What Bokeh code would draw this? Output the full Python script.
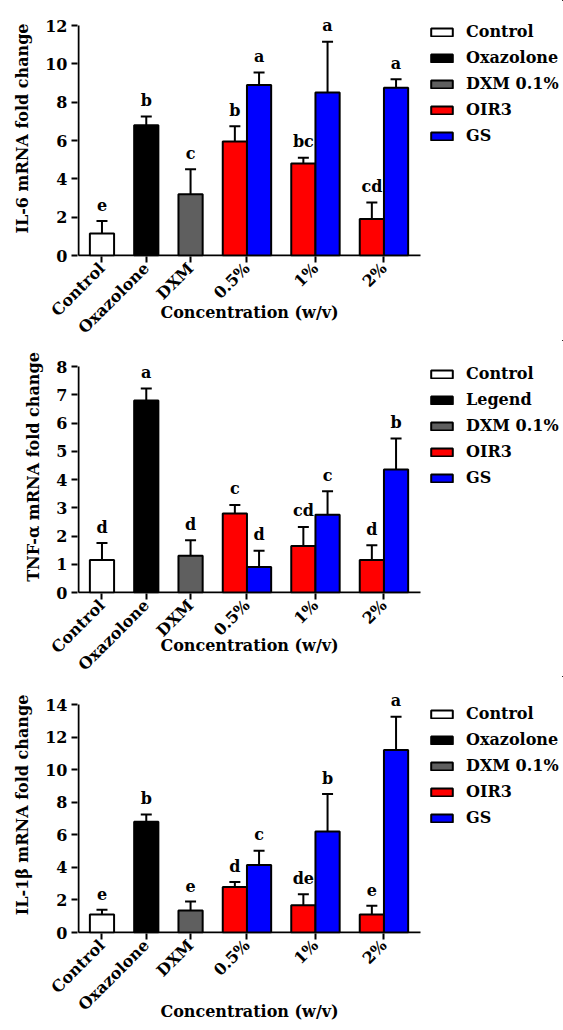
import math
from bokeh.plotting import figure
from bokeh.models import (ColumnDataSource, Range1d, FixedTicker, CustomJSTickFormatter,
                          Whisker, TeeHead, Legend, LegendItem)
from bokeh.layouts import column, row
from bokeh.core.properties import value
from bokeh.embed import file_html
from bokeh.resources import INLINE

# ---------------- data ----------------
categories = ["Control", "Oxazolone", "DXM", "0.5%", "1%", "2%"]
single_groups = ["Control", "Oxazolone", "DXM"]
dose_groups = ["0.5%", "1%", "2%"]

# IL-6
il6_single_mean = [1.15, 6.8, 3.2]
il6_single_err = [0.65, 0.45, 1.3]
il6_single_letters = ["e", "b", "c"]
il6_oir3_mean = [5.95, 4.8, 1.9]
il6_oir3_err = [0.8, 0.3, 0.87]
il6_oir3_letters = ["b", "bc", "cd"]
il6_gs_mean = [8.9, 8.5, 8.75]
il6_gs_err = [0.65, 2.65, 0.45]
il6_gs_letters = ["a", "a", "a"]
il6_legend = ["Control", "Oxazolone", "DXM 0.1%", "OIR3", "GS"]

# TNF-alpha
tnf_single_mean = [1.15, 6.8, 1.3]
tnf_single_err = [0.6, 0.42, 0.55]
tnf_single_letters = ["d", "a", "d"]
tnf_oir3_mean = [2.8, 1.65, 1.15]
tnf_oir3_err = [0.3, 0.67, 0.52]
tnf_oir3_letters = ["c", "cd", "d"]
tnf_gs_mean = [0.9, 2.75, 4.35]
tnf_gs_err = [0.58, 0.83, 1.1]
tnf_gs_letters = ["d", "c", "b"]
tnf_legend = ["Control", "Legend", "DXM 0.1%", "OIR3", "GS"]

# IL-1beta
il1b_single_mean = [1.1, 6.8, 1.35]
il1b_single_err = [0.3, 0.45, 0.55]
il1b_single_letters = ["e", "b", "e"]
il1b_oir3_mean = [2.8, 1.67, 1.1]
il1b_oir3_err = [0.3, 0.68, 0.55]
il1b_oir3_letters = ["d", "de", "e"]
il1b_gs_mean = [4.15, 6.2, 11.2]
il1b_gs_err = [0.87, 2.3, 2.05]
il1b_gs_letters = ["c", "b", "a"]
il1b_legend = ["Control", "Oxazolone", "DXM 0.1%", "OIR3", "GS"]

# ---------------- style / layout ----------------
FONT = "DejaVu Serif"
FILLS = ["#ffffff", "#000000", "#5f5f5f", "#ff0000", "#0000ff"]
BAR_W = 1.0
GAP = 0.83
LEFT = 77            # px left of the plotting area
AXIS_W = 342         # visible x-axis length in px
FRAME_W = AXIS_W + 2
FIG_W = 563
MAIN_W = LEFT + FRAME_W

sizes = [1] * len(single_groups) + [2] * len(dose_groups)
centers = []
_pos = 0.0
for s in sizes:
    centers.append(_pos + s / 2.0)
    _pos += s + GAP
x_start = -0.47
x_stop = _pos - GAP + 0.51
ppx = AXIS_W / (x_stop - x_start)


def style_text(kw):
    kw.update(text_font=value(FONT), text_font_style="bold", text_font_size="16px",
              text_color="black")
    return kw


def make_panel(ylabel, ymax, ystep, single_mean, single_err, single_letters,
               oir_mean, oir_err, oir_letters, gs_mean, gs_err, gs_letters,
               legend_labels, top, plot_h, fig_h, title_standoff, legend_top):
    frame_h = top + plot_h + 1
    ppy = plot_h / ymax
    x0 = x_start - 1.0 / ppx
    y0 = -1.0 / ppy
    p = figure(frame_width=FRAME_W, frame_height=frame_h, output_backend="svg",
               toolbar_location=None,
               x_range=Range1d(x0, x0 + FRAME_W / ppx), y_range=Range1d(y0, y0 + frame_h / ppy),
               min_border_left=LEFT, min_border_right=0, min_border_top=0,
               min_border_bottom=fig_h - frame_h)
    p.outline_line_color = None
    p.xgrid.visible = False
    p.ygrid.visible = False
    p.background_fill_color = "white"
    p.border_fill_color = "white"

    # legend figure to the right of the axes
    lf = figure(frame_width=FIG_W - MAIN_W, frame_height=frame_h, x_axis_type=None,
                y_axis_type=None, toolbar_location=None, output_backend="svg",
                min_border_left=0, min_border_right=0, min_border_top=0,
                min_border_bottom=fig_h - frame_h,
                x_range=Range1d(-1000, -999), y_range=Range1d(-1000, -999))
    lf.outline_line_color = None
    lf.xgrid.visible = False
    lf.ygrid.visible = False

    # axis lines limited to the visible ranges
    p.segment(x0=[x_start], y0=[0], x1=[x_stop], y1=[0], line_color="black", line_width=2)
    p.segment(x0=[x_start], y0=[0], x1=[x_start], y1=[ymax], line_color="black", line_width=2)

    n_single = len(single_groups)
    groups = []
    for i in range(n_single):
        groups.append(([centers[i]], [single_mean[i]], [single_err[i]], [single_letters[i]], FILLS[i]))
    dose_centers = centers[n_single:]
    for k, (mean, err, letters, shift) in enumerate(
            [(oir_mean, oir_err, oir_letters, -BAR_W / 2), (gs_mean, gs_err, gs_letters, BAR_W / 2)]):
        groups.append(([c + shift for c in dose_centers], mean, err, letters, FILLS[3 + k]))

    swatches = []
    for xs, mean, err, letters, fill in groups:
        src = ColumnDataSource(dict(x=xs, top=mean, up=[m + e for m, e in zip(mean, err)],
                                    lab=letters))
        p.vbar(x="x", top="top", bottom=0, width=BAR_W, source=src,
               fill_color=fill, line_color="black", line_width=2)
        # same bars in the legend figure (outside its visible range) for the legend swatches
        swatches.append(lf.vbar(x="x", top="top", bottom=0, width=BAR_W, source=src,
                                fill_color=fill, line_color="black", line_width=2))
        p.add_layout(Whisker(source=src, base="x", lower="top", upper="up",
                             dimension="height", line_width=2, line_color="black",
                             upper_head=TeeHead(size=11, line_width=2, line_color="black"),
                             lower_head=None))
        p.text(**style_text(dict(x="x", y="up", text="lab", source=src, text_align="center",
                                 text_baseline="alphabetic", y_offset=-16)))

    xa = p.xaxis[0]
    xa.ticker = FixedTicker(ticks=centers)
    xa.formatter = CustomJSTickFormatter(args=dict(pos=centers, labels=categories), code="""
        let best = 0; let bd = 1e9;
        for (let i = 0; i < pos.length; i++) {
            const d = Math.abs(pos[i] - tick);
            if (d < bd) { bd = d; best = i; }
        }
        return labels[best];
    """)
    xa.major_label_orientation = math.pi / 4
    xa.axis_label = "Concentration (w/v)"
    xa.axis_label_standoff = title_standoff
    ya = p.yaxis[0]
    ya.ticker = FixedTicker(ticks=list(range(0, ymax + 1, ystep)))
    ya.axis_label = ylabel
    ya.axis_label_standoff = 10
    for ax in (xa, ya):
        ax.axis_line_color = None
        ax.major_tick_line_width = 2
        ax.major_tick_line_color = "black"
        ax.major_tick_out = 6
        ax.major_tick_in = 0
        ax.minor_tick_line_color = None
        ax.major_label_text_font = FONT
        ax.major_label_text_font_style = "bold"
        ax.major_label_text_font_size = "16px"
        ax.major_label_text_color = "black"
        ax.axis_label_text_font = FONT
        ax.axis_label_text_font_style = "bold"
        ax.axis_label_text_font_size = "16px"
        ax.axis_label_text_color = "black"
    xa.major_label_standoff = 3
    ya.major_label_standoff = 4

    legend_h = 5 * 20 + 4 * 7
    legend = Legend(items=[LegendItem(label=lbl, renderers=[r])
                           for lbl, r in zip(legend_labels, swatches)],
                    location=(7, frame_h - legend_top - legend_h),
                    glyph_width=27, glyph_height=10,
                    label_standoff=11, spacing=7, padding=0, margin=0,
                    label_text_font=FONT, label_text_font_style="bold",
                    label_text_font_size="16px", label_text_color="black",
                    border_line_alpha=0, background_fill_alpha=0)
    lf.add_layout(legend, "center")
    return row(p, lf, spacing=0)


p1 = make_panel("IL-6 mRNA fold change", 12, 2,
                il6_single_mean, il6_single_err, il6_single_letters,
                il6_oir3_mean, il6_oir3_err, il6_oir3_letters,
                il6_gs_mean, il6_gs_err, il6_gs_letters, il6_legend,
                top=25, plot_h=230, fig_h=340, title_standoff=-44, legend_top=17)
p2 = make_panel("TNF-\u03b1 mRNA fold change", 8, 1,
                tnf_single_mean, tnf_single_err, tnf_single_letters,
                tnf_oir3_mean, tnf_oir3_err, tnf_oir3_letters,
                tnf_gs_mean, tnf_gs_err, tnf_gs_letters, tnf_legend,
                top=26, plot_h=226, fig_h=336, title_standoff=-48, legend_top=19)
p3 = make_panel("IL-1\u03b2 mRNA fold change", 14, 2,
                il1b_single_mean, il1b_single_err, il1b_single_letters,
                il1b_oir3_mean, il1b_oir3_err, il1b_oir3_letters,
                il1b_gs_mean, il1b_gs_err, il1b_gs_letters, il1b_legend,
                top=28, plot_h=228, fig_h=354, title_standoff=-22, legend_top=23)

layout = column(p1, p2, p3, spacing=0)
open("out.html", "w").write(file_html(layout, INLINE))
